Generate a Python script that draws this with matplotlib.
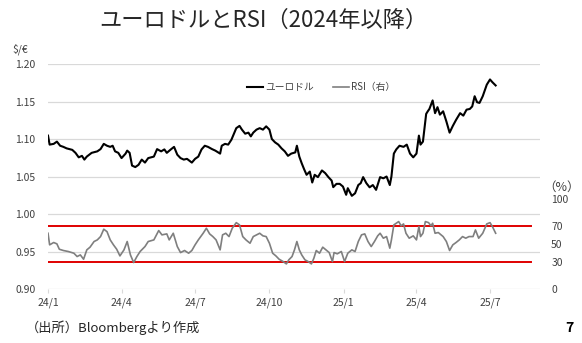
import numpy as np
import pandas as pd
import matplotlib
matplotlib.use("Agg")
import matplotlib.pyplot as plt
import matplotlib.dates as mdates

plt.rcParams['font.family'] = ['Noto Sans CJK JP', 'DejaVu Sans']

# ユーロドル（$/€）
eur_dates = [
    "2024-01-01", "2024-01-03", "2024-01-08", "2024-01-12", "2024-01-16", "2024-01-20",
    "2024-01-24", "2024-01-31", "2024-02-04", "2024-02-08", "2024-02-12", "2024-02-15",
    "2024-02-18", "2024-02-24", "2024-03-02", "2024-03-06", "2024-03-10", "2024-03-14",
    "2024-03-18", "2024-03-21", "2024-03-24", "2024-03-28", "2024-04-01", "2024-04-06",
    "2024-04-08", "2024-04-11", "2024-04-14", "2024-04-18", "2024-04-22", "2024-04-26",
    "2024-04-30", "2024-05-04", "2024-05-11", "2024-05-15", "2024-05-20", "2024-05-24",
    "2024-05-27", "2024-06-01", "2024-06-05", "2024-06-09", "2024-06-13", "2024-06-17",
    "2024-06-21", "2024-06-27", "2024-07-01", "2024-07-05", "2024-07-09", "2024-07-13",
    "2024-07-17", "2024-07-22", "2024-07-26", "2024-08-01", "2024-08-03", "2024-08-07",
    "2024-08-11", "2024-08-15", "2024-08-21", "2024-08-25", "2024-08-28", "2024-09-01",
    "2024-09-05", "2024-09-08", "2024-09-11", "2024-09-15", "2024-09-19", "2024-09-23",
    "2024-09-27", "2024-10-01", "2024-10-04", "2024-10-08", "2024-10-12", "2024-10-16",
    "2024-10-20", "2024-10-24", "2024-10-28", "2024-11-02", "2024-11-04", "2024-11-07",
    "2024-11-10", "2024-11-13", "2024-11-16", "2024-11-20", "2024-11-23", "2024-11-26",
    "2024-11-30", "2024-12-05", "2024-12-09", "2024-12-13", "2024-12-17", "2024-12-19",
    "2024-12-23", "2024-12-27", "2024-12-31", "2025-01-04", "2025-01-06", "2025-01-11",
    "2025-01-15", "2025-01-19", "2025-01-22", "2025-01-25", "2025-01-29", "2025-02-02",
    "2025-02-06", "2025-02-10", "2025-02-15", "2025-02-19", "2025-02-23", "2025-02-27",
    "2025-03-01", "2025-03-04", "2025-03-07", "2025-03-11", "2025-03-16", "2025-03-20",
    "2025-03-24", "2025-03-28", "2025-04-01", "2025-04-04", "2025-04-06", "2025-04-09",
    "2025-04-13", "2025-04-15", "2025-04-17", "2025-04-21", "2025-04-24", "2025-04-27",
    "2025-04-30", "2025-05-04", "2025-05-08", "2025-05-12", "2025-05-16", "2025-05-20",
    "2025-05-25", "2025-05-29", "2025-06-02", "2025-06-06", "2025-06-09", "2025-06-12",
    "2025-06-15", "2025-06-18", "2025-06-22", "2025-06-27", "2025-07-01", "2025-07-04",
    "2025-07-08",
]
eur_usd = [
    1.105, 1.093, 1.094, 1.097, 1.0915, 1.090,
    1.088, 1.086, 1.082, 1.076, 1.078, 1.073,
    1.077, 1.082, 1.084, 1.087, 1.094, 1.0915,
    1.090, 1.0915, 1.084, 1.082, 1.075, 1.081,
    1.085, 1.082, 1.065, 1.063, 1.066, 1.073,
    1.069, 1.075, 1.077, 1.087, 1.084, 1.0866,
    1.082, 1.0866, 1.090, 1.0795, 1.075, 1.073,
    1.074, 1.069, 1.074, 1.077, 1.0866, 1.0915,
    1.090, 1.087, 1.085, 1.081, 1.0915, 1.094,
    1.093, 1.0996, 1.115, 1.118, 1.113, 1.1076,
    1.109, 1.104, 1.109, 1.113, 1.115, 1.113,
    1.1174, 1.113, 1.1005, 1.096, 1.093, 1.088,
    1.084, 1.078, 1.081, 1.0826, 1.0915, 1.077,
    1.068, 1.060, 1.0527, 1.057, 1.0424, 1.0527,
    1.0496, 1.0585, 1.055, 1.0496, 1.045, 1.0362,
    1.0406, 1.0406, 1.037, 1.026, 1.0348, 1.0246,
    1.028, 1.039, 1.0415, 1.0496, 1.0415, 1.036,
    1.039, 1.0326, 1.0496, 1.048, 1.0504, 1.039,
    1.0504, 1.081, 1.0866, 1.0915, 1.090, 1.093,
    1.081, 1.076, 1.081, 1.105, 1.093, 1.097,
    1.134, 1.1375, 1.1406, 1.152, 1.135, 1.143,
    1.133, 1.1375, 1.124, 1.109, 1.118, 1.126,
    1.135, 1.1317, 1.1397, 1.1406, 1.144, 1.1576,
    1.1496, 1.1487, 1.1576, 1.173, 1.180, 1.1763,
    1.172,
]

# RSI（%、右軸）
rsi_dates = [
    "2024-01-01", "2024-01-03", "2024-01-08", "2024-01-12", "2024-01-15", "2024-01-20",
    "2024-01-26", "2024-02-02", "2024-02-06", "2024-02-10", "2024-02-14", "2024-02-18",
    "2024-02-22", "2024-02-27", "2024-03-02", "2024-03-06", "2024-03-10", "2024-03-14",
    "2024-03-18", "2024-03-22", "2024-03-26", "2024-03-30", "2024-04-04", "2024-04-08",
    "2024-04-12", "2024-04-16", "2024-04-20", "2024-04-24", "2024-04-30", "2024-05-04",
    "2024-05-11", "2024-05-17", "2024-05-21", "2024-05-27", "2024-05-30", "2024-06-04",
    "2024-06-09", "2024-06-13", "2024-06-18", "2024-06-23", "2024-06-27", "2024-07-01",
    "2024-07-05", "2024-07-11", "2024-07-15", "2024-07-19", "2024-07-23", "2024-07-27",
    "2024-08-01", "2024-08-04", "2024-08-08", "2024-08-12", "2024-08-16", "2024-08-21",
    "2024-08-25", "2024-08-29", "2024-09-02", "2024-09-07", "2024-09-11", "2024-09-15",
    "2024-09-19", "2024-09-23", "2024-09-27", "2024-10-01", "2024-10-05", "2024-10-09",
    "2024-10-13", "2024-10-18", "2024-10-22", "2024-10-25", "2024-10-29", "2024-11-01",
    "2024-11-04", "2024-11-07", "2024-11-10", "2024-11-14", "2024-11-18", "2024-11-22",
    "2024-11-25", "2024-11-28", "2024-12-02", "2024-12-06", "2024-12-10", "2024-12-14",
    "2024-12-18", "2024-12-20", "2024-12-24", "2024-12-29", "2025-01-02", "2025-01-06",
    "2025-01-11", "2025-01-15", "2025-01-19", "2025-01-23", "2025-01-27", "2025-01-31",
    "2025-02-04", "2025-02-08", "2025-02-12", "2025-02-15", "2025-02-19", "2025-02-23",
    "2025-02-27", "2025-03-01", "2025-03-04", "2025-03-07", "2025-03-10", "2025-03-13",
    "2025-03-16", "2025-03-19", "2025-03-23", "2025-03-28", "2025-04-01", "2025-04-04",
    "2025-04-06", "2025-04-09", "2025-04-12", "2025-04-16", "2025-04-19", "2025-04-21",
    "2025-04-24", "2025-04-28", "2025-05-04", "2025-05-08", "2025-05-12", "2025-05-16",
    "2025-05-20", "2025-05-24", "2025-05-28", "2025-06-01", "2025-06-05", "2025-06-10",
    "2025-06-13", "2025-06-17", "2025-06-22", "2025-06-27", "2025-07-01", "2025-07-04",
    "2025-07-08",
]
rsi = [
    62.2, 49.3, 51.9, 50.4, 44.4, 43.0,
    41.9, 40.0, 36.3, 38.1, 33.3, 43.7,
    46.7, 53.0, 54.8, 58.5, 66.7, 64.0,
    54.8, 49.3, 44.4, 37.0, 43.7, 53.0,
    38.1, 29.6, 36.3, 41.9, 47.4, 53.0,
    54.8, 65.2, 60.4, 61.5, 54.8, 62.2,
    47.4, 40.7, 43.0, 40.0, 43.0, 49.3,
    54.8, 62.2, 67.8, 61.5, 58.5, 54.8,
    43.7, 60.4, 62.2, 58.5, 67.8, 74.0,
    71.5, 58.5, 54.8, 51.1, 58.5, 60.4,
    62.2, 59.3, 58.5, 51.1, 40.0, 37.0,
    33.3, 30.7, 28.1, 32.6, 36.3, 43.7,
    53.0, 43.7, 38.1, 32.6, 30.7, 28.1,
    34.4, 43.0, 40.0, 46.7, 43.7, 40.7,
    30.7, 40.7, 39.3, 41.9, 30.7, 40.0,
    43.7, 41.9, 53.0, 60.4, 61.5, 53.0,
    47.4, 53.0, 59.3, 62.2, 56.7, 58.5,
    45.6, 54.8, 71.5, 73.3, 75.2, 70.4,
    72.6, 62.2, 56.7, 59.3, 54.8, 69.6,
    58.5, 62.2, 75.2, 74.0, 70.4, 73.3,
    62.2, 63.0, 58.5, 53.0, 43.0, 49.3,
    51.9, 54.8, 58.5, 56.7, 58.5, 58.5,
    65.9, 56.7, 62.2, 72.6, 74.0, 69.6,
    62.2,
]

rsi_upper = 70
rsi_lower = 30

left_ticks = [0.90, 0.95, 1.00, 1.05, 1.10, 1.15, 1.20]
right_ticks = [0, 30, 50, 70, 100]
x_ticks = ["2024-01-01", "2024-04-01", "2024-07-01", "2024-10-01",
           "2025-01-01", "2025-04-01", "2025-07-01"]
x_labels = ["24/1", "24/4", "24/7", "24/10", "25/1", "25/4", "25/7"]

txt = "#404040"

fig = plt.figure(figsize=(5.82, 3.43), dpi=100)
ax = fig.add_axes([0.0825, 0.157, 0.8455, 0.655])
ax2 = ax.twinx()

ax.plot(pd.to_datetime(eur_dates), eur_usd, color="black", lw=1.5, zorder=3,
        label="ユーロドル")
ax2.plot(pd.to_datetime(rsi_dates), rsi, color="#7f7f7f", lw=1.2, zorder=3,
         label="RSI（右）")
ax2.axhline(rsi_upper, xmin=0, xmax=0.982, color="#e00000", lw=1.4)
ax2.axhline(rsi_lower, xmin=0, xmax=0.982, color="#e00000", lw=1.4)

ax.set_xlim(pd.Timestamp("2024-01-01"), pd.Timestamp("2025-09-01"))
ax.set_ylim(0.90, 1.20)
ax.set_yticks(left_ticks)
ax.set_yticklabels([f"{v:.2f}" for v in left_ticks])
ax.grid(axis="y", color="#d9d9d9", lw=0.9)
ax.set_axisbelow(True)
ax.set_xticks(pd.to_datetime(x_ticks))
ax.set_xticklabels(x_labels)

ax2.set_ylim(0, 250)
ax2.set_yticks(right_ticks)

for a in (ax, ax2):
    for s in a.spines.values():
        s.set_visible(False)
ax.tick_params(axis="y", length=0, pad=9, labelsize=7.5, labelcolor=txt)
ax.tick_params(axis="x", length=3, color="#d9d9d9", pad=3, labelsize=7.5,
               labelcolor=txt)
ax2.tick_params(axis="y", length=0, pad=8, labelsize=7.5, labelcolor=txt)

h1, l1 = ax.get_legend_handles_labels()
h2, l2 = ax2.get_legend_handles_labels()
ax.legend(h1 + h2, l1 + l2, loc="upper center", bbox_to_anchor=(0.555, 0.96),
          ncol=2, frameon=False, fontsize=7, handlelength=1.6,
          handletextpad=0.2, columnspacing=2.0, labelcolor=txt)

fig.text(0.452, 0.942, "ユーロドルとRSI（2024年以降）", ha="center", va="center",
         fontsize=16, color="#262626")
fig.text(0.022, 0.855, "$/€", ha="left", va="center", fontsize=7.5, color=txt)
fig.text(0.933, 0.455, "（%）", ha="left", va="center", fontsize=9, color=txt)
fig.text(0.045, 0.044, "（出所）Bloombergより作成", ha="left", va="center",
         fontsize=9.5, color="#262626")
fig.text(0.985, 0.044, "7", ha="right", va="center", fontsize=10,
         fontweight="bold", color="black")

fig.savefig("out.png", dpi=100)
